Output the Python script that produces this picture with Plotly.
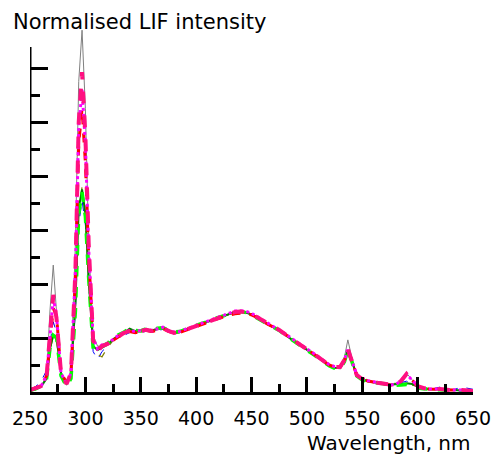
import plotly.graph_objects as go

wavelength = [250,255,260,265,268,271,274,278,283,287,
              291,294,297,300,303,307,311,315,320,325,
              330,335,340,345,350,355,360,365,370,375,
              380,385,390,395,400,405,410,415,420,425,
              430,435,440,445,450,455,460,465,470,475,
              480,485,490,495,500,505,510,515,520,525,
              530,534,537,541,545,550,555,560,565,570,
              575,580,585,590,595,600,605,610,620,630,
              640,650]

gray_s = [0.005,0.012,0.02,0.06,0.30,0.47,0.28,0.06,0.025,0.08,
          0.55,1.15,1.34,1.05,0.55,0.21,0.17,0.17,0.175,0.19,
          0.205,0.215,0.222,0.22,0.225,0.228,0.222,0.23,0.235,0.222,
          0.215,0.22,0.228,0.235,0.242,0.25,0.257,0.265,0.272,0.28,
          0.288,0.294,0.296,0.292,0.285,0.274,0.26,0.248,0.237,0.226,
          0.21,0.195,0.18,0.166,0.155,0.14,0.127,0.112,0.097,0.09,
          0.09,0.13,0.193,0.12,0.063,0.048,0.04,0.036,0.032,0.029,
          0.026,0.028,0.045,0.07,0.045,0.02,0.014,0.01,0.01,0.007,
          0.006,0.004]

blue_s = [0.01,0.02,0.04,0.08,0.18,0.26,0.22,0.07,0.035,0.06,
          0.30,0.62,0.71,0.62,0.40,0.15,0.12,0.15,0.17,0.19,
          0.205,0.21,0.22,0.225,0.22,0.225,0.222,0.228,0.232,0.224,
          0.218,0.22,0.226,0.234,0.242,0.25,0.258,0.266,0.274,0.282,
          0.29,0.295,0.297,0.294,0.29,0.28,0.265,0.25,0.24,0.228,
          0.214,0.2,0.186,0.17,0.157,0.143,0.128,0.112,0.098,0.09,
          0.088,0.115,0.15,0.11,0.065,0.05,0.042,0.038,0.034,0.032,
          0.03,0.03,0.035,0.04,0.03,0.015,0.02,0.008,0.018,0.006,
          0.018,0.01]

olive_s = [0.005,0.01,0.02,0.05,0.15,0.21,0.19,0.06,0.03,0.06,
           0.32,0.66,0.76,0.64,0.40,0.17,0.14,0.13,0.165,0.19,
           0.205,0.215,0.225,0.225,0.222,0.228,0.225,0.232,0.238,0.226,
           0.218,0.22,0.228,0.236,0.243,0.25,0.258,0.266,0.273,0.28,
           0.288,0.295,0.3,0.295,0.288,0.276,0.262,0.25,0.24,0.228,
           0.213,0.198,0.183,0.168,0.156,0.141,0.127,0.112,0.097,0.09,
           0.09,0.115,0.155,0.11,0.065,0.05,0.042,0.038,0.036,0.034,
           0.032,0.03,0.03,0.03,0.025,0.02,0.015,0.012,0.01,0.008,
           0.006,0.004]

darkgreen_s = [0.004,0.01,0.02,0.05,0.16,0.21,0.20,0.07,0.03,0.06,
               0.33,0.68,0.75,0.66,0.42,0.17,0.155,0.165,0.175,0.195,
               0.21,0.22,0.235,0.225,0.228,0.232,0.228,0.235,0.24,0.228,
               0.22,0.222,0.23,0.238,0.245,0.252,0.26,0.267,0.274,0.282,
               0.29,0.296,0.298,0.295,0.287,0.276,0.263,0.25,0.24,0.228,
               0.213,0.198,0.184,0.17,0.157,0.142,0.128,0.113,0.098,0.09,
               0.088,0.115,0.155,0.11,0.06,0.047,0.04,0.036,0.032,0.03,
               0.028,0.028,0.03,0.032,0.03,0.02,0.015,0.01,0.01,0.007,
               0.006,0.004]

green_s = [0.006,0.012,0.022,0.05,0.16,0.21,0.20,0.06,0.02,0.05,
           0.30,0.66,0.74,0.65,0.42,0.16,0.15,0.17,0.18,0.2,
           0.212,0.222,0.238,0.228,0.226,0.234,0.23,0.236,0.238,0.23,
           0.222,0.224,0.232,0.238,0.246,0.254,0.26,0.27,0.276,0.283,
           0.29,0.296,0.298,0.294,0.285,0.275,0.262,0.25,0.24,0.228,
           0.212,0.197,0.183,0.168,0.156,0.141,0.127,0.112,0.097,0.088,
           0.086,0.113,0.155,0.108,0.06,0.045,0.038,0.035,0.032,0.03,
           0.027,0.025,0.026,0.028,0.022,0.015,0.012,0.01,0.008,0.006,
           0.005,0.003]

red_s = [0.008,0.015,0.022,0.06,0.2,0.31,0.28,0.07,0.035,0.07,
         0.42,0.92,1.05,0.85,0.50,0.2,0.16,0.17,0.178,0.193,
         0.205,0.217,0.224,0.22,0.224,0.228,0.224,0.23,0.235,0.225,
         0.218,0.22,0.228,0.235,0.242,0.25,0.257,0.265,0.272,0.278,
         0.285,0.29,0.292,0.29,0.286,0.276,0.262,0.25,0.24,0.23,
         0.215,0.2,0.185,0.17,0.158,0.144,0.13,0.115,0.1,0.093,
         0.092,0.118,0.155,0.11,0.063,0.048,0.041,0.037,0.033,0.03,
         0.026,0.026,0.04,0.065,0.045,0.022,0.015,0.011,0.01,0.007,
         0.007,0.004]

magenta_s = [0.007,0.015,0.022,0.06,0.22,0.35,0.28,0.07,0.03,0.07,
             0.45,0.98,1.12,0.92,0.53,0.2,0.16,0.175,0.18,0.196,
             0.21,0.222,0.228,0.224,0.228,0.232,0.228,0.235,0.24,0.228,
             0.222,0.224,0.232,0.24,0.247,0.255,0.262,0.27,0.277,0.284,
             0.292,0.3,0.301,0.299,0.292,0.28,0.266,0.254,0.243,0.232,
             0.217,0.202,0.187,0.172,0.16,0.146,0.132,0.117,0.102,0.094,
             0.094,0.12,0.158,0.112,0.064,0.049,0.042,0.038,0.034,0.031,
             0.027,0.027,0.042,0.066,0.044,0.022,0.015,0.011,0.011,0.007,
             0.007,0.004]

pink_s = [0.007,0.015,0.022,0.06,0.20,0.36,0.27,0.07,0.03,0.07,
          0.45,1.00,1.185,0.95,0.55,0.19,0.15,0.17,0.178,0.193,
          0.207,0.219,0.226,0.222,0.226,0.23,0.226,0.233,0.237,0.226,
          0.219,0.222,0.23,0.237,0.244,0.252,0.259,0.267,0.274,0.281,
          0.289,0.296,0.298,0.296,0.289,0.278,0.263,0.252,0.241,0.23,
          0.215,0.2,0.185,0.17,0.159,0.144,0.13,0.115,0.1,0.093,
          0.093,0.119,0.159,0.111,0.063,0.048,0.041,0.037,0.033,0.03,
          0.026,0.026,0.041,0.067,0.044,0.022,0.015,0.011,0.011,0.007,
          0.007,0.004]

x_ticks = [250, 300, 350, 400, 450, 500, 550, 600, 650]
x_minor = [275, 325, 375, 425, 475, 525, 575, 625]
y_major = [0.2, 0.4, 0.6, 0.8, 1.0, 1.2]
y_minor = [0.1, 0.3, 0.5, 0.7, 0.9, 1.1]
y_axis_top = 1.278

series = [
    (gray_s, "#808080", 1, "solid"),
    (blue_s, "#0000FF", 1, "dash"),
    (olive_s, "#808000", 1.2, "dash"),
    (darkgreen_s, "#008000", 2, "solid"),
    (green_s, "#00FF00", 3.5, "dash"),
    (red_s, "#FF0000", 3, "dash"),
    (magenta_s, "#FF00FF", 3, "dot"),
    (pink_s, "#FF1080", 4, "dash"),
]

fig = go.Figure()
for ys, col, w, d in series:
    fig.add_trace(go.Scatter(x=wavelength, y=ys, mode="lines",
                             line=dict(color=col, width=w, dash=d),
                             showlegend=False, hoverinfo="skip"))

font = "DejaVu Sans"
fig.update_layout(
    width=503, height=454,
    margin=dict(l=29, r=20, t=14, b=62),
    paper_bgcolor="white", plot_bgcolor="white",
    xaxis=dict(range=[250, 650], showgrid=False, zeroline=False,
               showline=True, linecolor="black", linewidth=3,
               tickmode="array", tickvals=x_ticks,
               ticks="inside", ticklen=15, tickwidth=3, tickcolor="black",
               ticklabelstandoff=7,
               minor=dict(tickmode="array", tickvals=x_minor, ticks="inside",
                          ticklen=8, tickwidth=3, tickcolor="black",
                          showgrid=False),
               tickfont=dict(family=font, size=19, color="black")),
    yaxis=dict(range=[0, 1.4], showgrid=False, zeroline=False,
               showline=False, showticklabels=False,
               tickmode="array", tickvals=y_major,
               ticks="inside", ticklen=18, tickwidth=3, tickcolor="black",
               minor=dict(tickmode="array", tickvals=y_minor, ticks="inside",
                          ticklen=10, tickwidth=3, tickcolor="black",
                          showgrid=False)),
    shapes=[dict(type="line", xref="x", yref="y", x0=250, x1=250,
                 y0=0, y1=y_axis_top, line=dict(color="black", width=3))],
    annotations=[
        dict(text="Normalised LIF intensity", xref="paper", yref="paper",
             x=-0.044, y=0.979, xanchor="left", yanchor="middle",
             showarrow=False, font=dict(family=font, size=21, color="black")),
        dict(text="Wavelength, nm", xref="paper", yref="paper",
             x=1.0, y=-0.134, xanchor="right", yanchor="middle",
             showarrow=False, font=dict(family=font, size=20, color="black")),
    ],
)

fig.write_html("out.html")
